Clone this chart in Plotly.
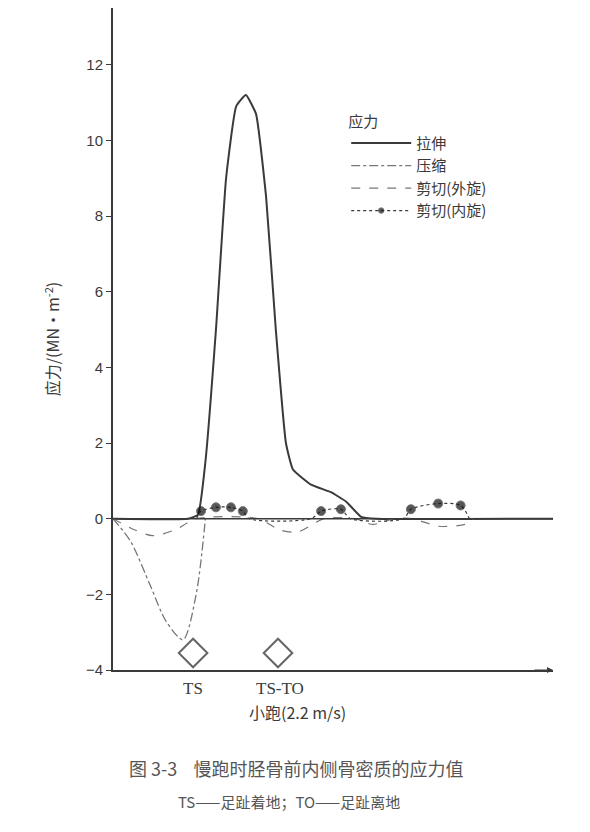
import plotly.graph_objects as go

# 拉伸 (solid)
x_ten = [0, 17, 19.3, 21, 23.4, 25.7, 28, 30.2, 32.5, 34.8, 37, 39.3, 40.9, 45, 49.5, 53, 56.4, 60, 100]
y_ten = [0, 0, 0.1, 1.5, 5, 9, 10.9, 11.2, 10.7, 8.5, 5, 2, 1.3, 0.9, 0.7, 0.45, 0.05, 0, 0]
# 压缩 (dash-dot)
x_com = [0, 4, 8.6, 12, 15.9, 18.9, 21]
y_com = [0, -0.6, -1.8, -2.7, -3.2, -2.0, 0]
# 剪切(外旋) (dashed)
x_sho = [0, 5, 9, 14, 19, 33, 38, 42, 48, 55, 59, 64, 68, 74, 80, 82]
y_sho = [0, -0.3, -0.45, -0.3, 0, 0, -0.3, -0.35, 0, 0, -0.15, 0, 0, -0.2, -0.15, 0]
# 剪切(内旋) (dotted with dots)
x_shi = [19, 20, 23.4, 26.8, 29.5, 31, 45, 47.3, 51.8, 54, 66, 67.7, 73.9, 79, 81]
y_shi = [0, 0.2, 0.3, 0.3, 0.2, 0, 0, 0.2, 0.25, 0, 0, 0.25, 0.4, 0.35, 0]
dot_on = [0, 1, 1, 1, 1, 0, 0, 1, 1, 0, 0, 1, 1, 1, 0]
# events
x_evt = [18.2, 37.5]
lab_evt = ["TS", "TS-TO"]

ink = "#3a3a3a"
font = "Noto Sans CJK SC"

fig = go.Figure()
fig.add_trace(go.Scatter(x=x_ten, y=y_ten, mode="lines", name="拉伸",
                         line=dict(color=ink, width=2, shape="spline", smoothing=0.4)))
fig.add_trace(go.Scatter(x=x_com, y=y_com, mode="lines", name="压缩",
                         line=dict(color="#777", width=1.3, dash="dashdot", shape="spline", smoothing=0.8)))
fig.add_trace(go.Scatter(x=x_sho, y=y_sho, mode="lines", name="剪切(外旋)",
                         line=dict(color="#777", width=1.2, dash="dash", shape="spline", smoothing=0.8)))
fig.add_trace(go.Scatter(x=x_shi, y=y_shi, mode="lines+markers", name="剪切(内旋)",
                         line=dict(color=ink, width=1.2, dash="dot", shape="spline", smoothing=0.8),
                         marker=dict(color="#111", size=[9 * d for d in dot_on])))
fig.add_trace(go.Scatter(x=x_evt, y=[-3.55] * 2, mode="markers", showlegend=False,
                         marker=dict(symbol="diamond-open", size=22, color="#666", line=dict(width=2))))

for xv, t in zip(x_evt, lab_evt):
    fig.add_annotation(x=xv + (0.5 if t != "TS" else 0), y=-4, yshift=-18, text=t, showarrow=False,
                       font=dict(family="Liberation Serif", size=17, color=ink))

fig.add_shape(type="line", x0=0, x1=100, y0=0, y1=0, line=dict(color=ink, width=1.5))
fig.add_annotation(x=100, y=-4, ax=-20, ay=0, showarrow=True, arrowhead=2, arrowsize=1.2,
                   arrowcolor=ink, text="")

fig.add_annotation(x=0.42, y=-0.085, xref="paper", yref="paper", text="小跑(2.2 m/s)",
                   showarrow=False, font=dict(family=font, size=16, color=ink))
fig.add_annotation(x=0.415, y=-0.17, xref="paper", yref="paper",
                   text="图 3-3    慢跑时胫骨前内侧骨密质的应力值",
                   showarrow=False, font=dict(family=font, size=18, color="#555"))
fig.add_annotation(x=0.4, y=-0.218, xref="paper", yref="paper",
                   text="TS——足趾着地；TO——足趾离地",
                   showarrow=False, font=dict(family=font, size=15, color="#555"))

fig.update_layout(
    width=590, height=832, plot_bgcolor="white", paper_bgcolor="white",
    margin=dict(l=105, r=45, t=0, b=170),
    font=dict(family=font, color=ink),
    xaxis=dict(range=[0, 100], showticklabels=False, ticks="", showgrid=False,
               zeroline=False, showline=True, linecolor=ink, linewidth=1.5),
    yaxis=dict(range=[-4, 13.5], tickvals=list(range(-4, 13, 2)), ticks="outside",
               ticklen=5, tickcolor=ink, showgrid=False, zeroline=False,
               showline=True, linecolor=ink, linewidth=2,
               tickfont=dict(family="Liberation Sans", size=15),
               title=dict(text="应力/(MN·m<sup>-2</sup>)", font=dict(size=16), standoff=22)),
    legend=dict(x=0.53, y=0.85, xanchor="left", yanchor="top", bgcolor="rgba(0,0,0,0)",
                title=dict(text="应力", font=dict(size=15)), font=dict(size=15),
                tracegroupgap=0, itemwidth=60),
)

fig.write_html("out.html")
